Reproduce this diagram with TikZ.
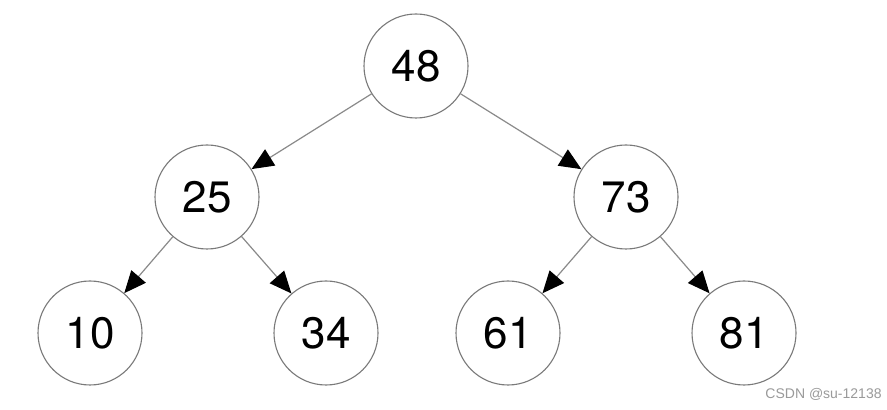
\documentclass[tikz,border=0pt]{standalone}
\usepackage{fontspec}
\setmainfont{TeX Gyre Heros}
\newfontfamily\markfont{Liberation Sans}
\usetikzlibrary{arrows.meta}
\definecolor{edgegray}{HTML}{8A8A8A}
\definecolor{ringgray}{HTML}{7A7A7A}
\definecolor{markgray}{HTML}{9A9A9A}
\tikzset{
  keynode/.style={circle, draw=ringgray, line width=0.55pt, minimum size=52pt,
    inner sep=0pt, font=\fontsize{22}{26}\selectfont},
  treeedge/.style={draw=edgegray, line width=0.6pt,
    -{Triangle[length=11pt,width=9.5pt,fill=black,color=black]}}
}
\begin{document}
\begin{tikzpicture}[x=0.5pt, y=-0.5pt, line cap=round, line join=round]
            \useasboundingbox[fill=white] (0,0) rectangle (887,410);
            % Tree nodes
            \node[keynode] (k48) at (416,66) {48};
            \node[keynode] (k25) at (207,197) {25};
            \node[keynode] (k73) at (626,197) {73};
            \node[keynode] (k10) at (90,333) {10};
            \node[keynode] (k34) at (326,333) {34};
            \node[keynode] (k61) at (508,333) {61};
            \node[keynode] (k81) at (744,333) {81};

            % Edges
            \draw[treeedge] (k48) -- (k25);
            \draw[treeedge] (k48) -- (k73);
            \draw[treeedge] (k25) -- (k10);
            \draw[treeedge] (k25) -- (k34);
            \draw[treeedge] (k73) -- (k61);
            \draw[treeedge] (k73) -- (k81);

            % Watermark
            \node[anchor=base east, inner sep=0pt, text=markgray,
              font=\markfont\fontsize{7}{8}\selectfont] (mark) at (882,399) {CSDN @su-12138};
        \end{tikzpicture}
\end{document}
